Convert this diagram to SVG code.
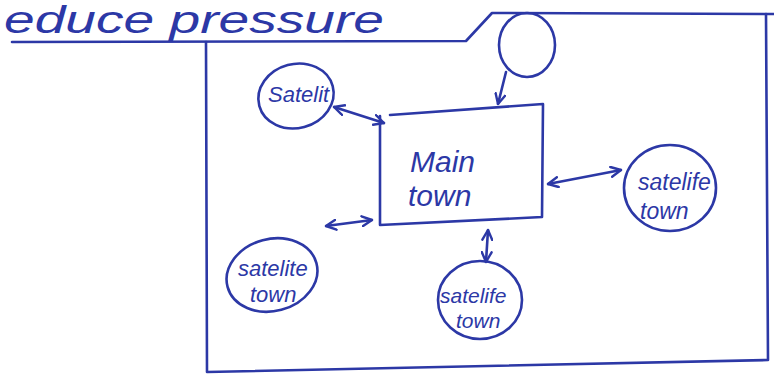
<svg xmlns="http://www.w3.org/2000/svg" width="774" height="376" viewBox="0 0 774 376">
<defs>
<style>
.ink{fill:none;stroke:#2c38a6;stroke-width:2.6;stroke-linecap:round;stroke-linejoin:round}
.t{fill:#2c38a6;font-family:"Liberation Sans","DejaVu Sans",sans-serif;font-style:italic}
</style>
<marker id="ah" viewBox="0 0 12 12" refX="11" refY="6" markerWidth="12" markerHeight="12" orient="auto-start-reverse" markerUnits="userSpaceOnUse">
<path d="M1,1 L11,6 L1,11" fill="none" stroke="#2c38a6" stroke-width="2.4" stroke-linecap="round" stroke-linejoin="round"/>
</marker>
</defs>
<rect width="774" height="376" fill="#ffffff"/>
<text class="t" x="4" y="33" font-size="38" textLength="380" lengthAdjust="spacingAndGlyphs">educe pressure</text>
<g id="frame">
<path class="ink" d="M12,42 L466,41 L492,13 L774,14"/>
<path class="ink" d="M206,42 L207,372 L768,360 L766,14"/>
</g>
<g id="main-town">
<path class="ink" d="M390,115 L543,104 L542,217 L380,225 L380,116"/>
<text class="t" x="410" y="172" font-size="30">Main</text>
<text class="t" x="408" y="206" font-size="30">town</text>
</g>
<g id="satelit">
<ellipse class="ink" cx="296" cy="96" rx="38" ry="32" transform="rotate(-15 296 96)"/>
<text class="t" x="268" y="102" font-size="22">Satelit</text>
</g>
<g id="loop">
<ellipse class="ink" cx="527" cy="45" rx="28" ry="32"/>
</g>
<g id="satellite-right">
<ellipse class="ink" cx="670" cy="188" rx="46" ry="43"/>
<text class="t" x="638" y="190" font-size="23">satelife</text>
<text class="t" x="640" y="219" font-size="23">town</text>
</g>
<g id="satellite-bottom-left">
<ellipse class="ink" cx="272" cy="275" rx="46" ry="36" transform="rotate(-15 272 275)"/>
<text class="t" x="238" y="276" font-size="22">satelite</text>
<text class="t" x="250" y="302" font-size="22">town</text>
</g>
<g id="satellite-bottom">
<ellipse class="ink" cx="480" cy="300" rx="42" ry="39"/>
<text class="t" x="440" y="303" font-size="21">satelife</text>
<text class="t" x="456" y="328" font-size="21">town</text>
</g>
<g id="connectors">
<line class="ink" x1="334" y1="107" x2="384" y2="123" marker-start="url(#ah)" marker-end="url(#ah)"/>
<line class="ink" x1="506" y1="72" x2="498" y2="104" marker-end="url(#ah)"/>
<line class="ink" x1="548" y1="184" x2="621" y2="170" marker-start="url(#ah)" marker-end="url(#ah)"/>
<line class="ink" x1="326" y1="226" x2="372" y2="220" marker-start="url(#ah)" marker-end="url(#ah)"/>
<line class="ink" x1="488" y1="230" x2="486" y2="262" marker-start="url(#ah)" marker-end="url(#ah)"/>
</g>
</svg>
